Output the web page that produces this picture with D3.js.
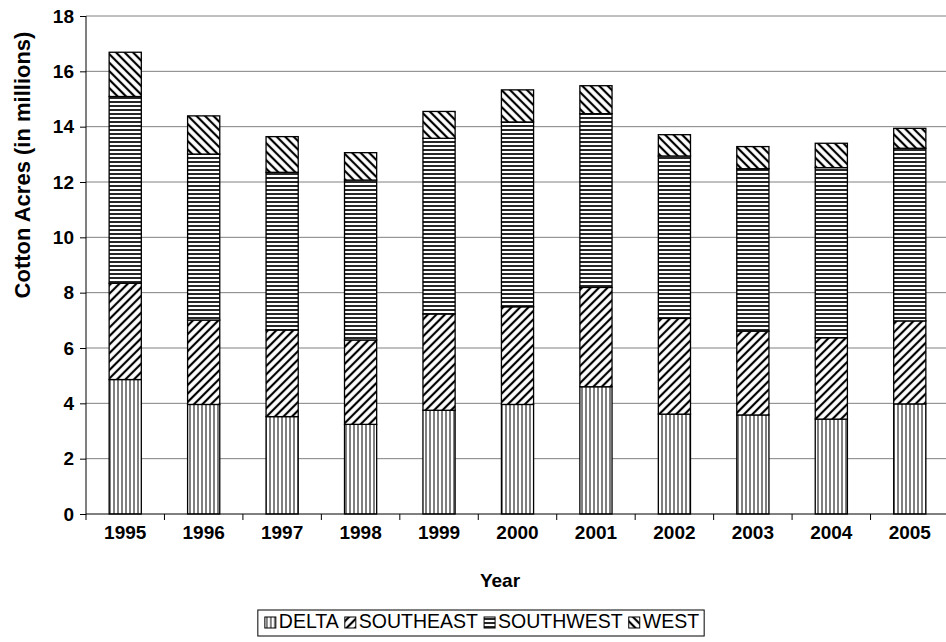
<!DOCTYPE html>
<html>
<head>
<meta charset="utf-8">
<script src="https://cdn.jsdelivr.net/npm/d3@7/dist/d3.min.js"></script>
<style>
  html, body { margin: 0; padding: 0; background: #fff; }
  svg { display: block; font-family: "Liberation Sans", Arial, sans-serif; }
</style>
</head>
<body>
<svg id="chart" width="946" height="642"></svg>
<script>
// Cotton acreage by region, millions of acres
const years = ["1995", "1996", "1997", "1998", "1999", "2000", "2001", "2002", "2003", "2004", "2005"];
const regions = ["DELTA", "SOUTHEAST", "SOUTHWEST", "WEST"];
const delta     = [4.86, 3.96, 3.52, 3.24, 3.75, 3.96, 4.60, 3.61, 3.58, 3.43, 3.98];
const southeast = [3.48, 3.05, 3.13, 3.05, 3.48, 3.53, 3.59, 3.46, 3.03, 2.94, 3.00];
const southwest = [6.75, 6.00, 5.70, 5.78, 6.35, 6.68, 6.28, 5.87, 5.87, 6.15, 6.24];
const west      = [1.60, 1.38, 1.29, 0.99, 0.97, 1.16, 1.01, 0.77, 0.80, 0.88, 0.72];
const yTicks = [0, 2, 4, 6, 8, 10, 12, 14, 16, 18];

const series = { DELTA: delta, SOUTHEAST: southeast, SOUTHWEST: southwest, WEST: west };
const rows = years.map((y, i) => {
  const r = { year: y };
  regions.forEach(k => { r[k] = series[k][i]; });
  return r;
});

const svg = d3.select("#chart");
const margin = { left: 86, top: 16, bottom: 128 };
const plotBottom = 642 - margin.bottom;

const x = d3.scaleBand().domain(years).range([86, 949]).paddingInner(0.59).paddingOuter(0.295);
const y = d3.scaleLinear().domain([0, 18]).range([plotBottom, margin.top]);

// Hatch fills for each region
const defs = svg.append("defs");
function hatch(id, size, angle, horizontal, width) {
  const p = defs.append("pattern")
    .attr("id", id)
    .attr("patternUnits", "userSpaceOnUse")
    .attr("width", size).attr("height", size);
  if (angle) p.attr("patternTransform", `rotate(${angle})`);
  p.append("rect").attr("width", size).attr("height", size).attr("fill", "#fff");
  if (horizontal) {
    p.append("line").attr("x1", 0).attr("x2", size).attr("y1", size / 2).attr("y2", size / 2)
      .attr("stroke", "#000").attr("stroke-width", width);
  } else {
    p.append("line").attr("y1", 0).attr("y2", size).attr("x1", size / 2).attr("x2", size / 2)
      .attr("stroke", "#000").attr("stroke-width", width);
  }
}
hatch("p-delta", 4, 0, false, 1);
hatch("p-southeast", 6, 45, false, 2.2);
hatch("p-southwest", 4, 0, true, 1.7);
hatch("p-west", 6, -45, false, 2.2);
const fills = { DELTA: "url(#p-delta)", SOUTHEAST: "url(#p-southeast)", SOUTHWEST: "url(#p-southwest)", WEST: "url(#p-west)" };

// Gridlines
svg.append("g")
  .selectAll("line")
  .data(yTicks.filter(t => t > 0))
  .join("line")
  .attr("x1", 86).attr("x2", 946)
  .attr("y1", d => y(d)).attr("y2", d => y(d))
  .attr("stroke", "#808080").attr("stroke-width", 1);

// Stacked bars
const stack = d3.stack().keys(regions)(rows);
svg.append("g")
  .selectAll("g")
  .data(stack)
  .join("g")
  .attr("fill", d => fills[d.key])
  .selectAll("rect")
  .data(d => d)
  .join("rect")
  .attr("x", d => x(d.data.year))
  .attr("width", x.bandwidth())
  .attr("y", d => y(d[1]))
  .attr("height", d => y(d[0]) - y(d[1]))
  .attr("stroke", "#000").attr("stroke-width", 1.3);

// Y axis
const yAxis = svg.append("g")
  .attr("transform", "translate(86,0)")
  .call(d3.axisLeft(y).tickValues(yTicks).tickSize(6).tickPadding(6).tickFormat(d3.format("d")));
yAxis.select(".domain").attr("stroke", "#000").attr("d", `M0,${y(18)}V${plotBottom}`);
yAxis.selectAll(".tick line").attr("stroke", "#000");
yAxis.selectAll("text").attr("font-size", 19).attr("font-weight", "bold").attr("fill", "#000")
  .attr("font-family", "Liberation Sans, Arial, sans-serif");

// X axis: ticks sit at category boundaries
const xAxisG = svg.append("g").attr("transform", `translate(0,${plotBottom})`);
xAxisG.append("line").attr("x1", 86).attr("x2", 946).attr("y1", 0).attr("y2", 0).attr("stroke", "#000");
const step = x.step();
xAxisG.selectAll(".bnd")
  .data(years)
  .join("line")
  .attr("x1", (d, i) => 86 + i * step).attr("x2", (d, i) => 86 + i * step)
  .attr("y1", 0).attr("y2", 6).attr("stroke", "#000");
xAxisG.selectAll("text")
  .data(years)
  .join("text")
  .attr("x", d => x(d) + x.bandwidth() / 2)
  .attr("y", 25)
  .attr("text-anchor", "middle")
  .attr("font-size", 19).attr("font-weight", "bold")
  .text(d => d);

// Axis titles
svg.append("text")
  .attr("x", 500).attr("y", 587)
  .attr("text-anchor", "middle")
  .attr("font-size", 19).attr("font-weight", "bold")
  .text("Year");
svg.append("text")
  .attr("transform", "translate(30,165) rotate(-90)")
  .attr("text-anchor", "middle")
  .attr("font-size", 22).attr("font-weight", "bold")
  .text("Cotton Acres (in millions)");

// Legend
const legend = svg.append("g");
const legendItems = legend.selectAll("g").data(regions).join("g");
legendItems.append("rect")
  .attr("width", 11).attr("height", 11)
  .attr("fill", d => fills[d]).attr("stroke", "#000").attr("stroke-width", 1);
legendItems.append("text")
  .attr("x", 14).attr("y", 11)
  .attr("font-size", 19.5)
  .text(d => d);
let cx = 0;
const gap = 6;
legendItems.each(function () {
  const w = this.getBBox().width;
  d3.select(this).attr("transform", `translate(${cx},0)`);
  cx += w + gap;
});
const totalW = cx - gap;
const lx = 482 - totalW / 2, ly = 617;
legend.attr("transform", `translate(${lx},${ly})`);
legend.insert("rect", ":first-child")
  .attr("x", -7).attr("y", -7).attr("width", totalW + 12).attr("height", 26)
  .attr("fill", "#fff").attr("stroke", "#000").attr("stroke-width", 1);
</script>
</body>
</html>
